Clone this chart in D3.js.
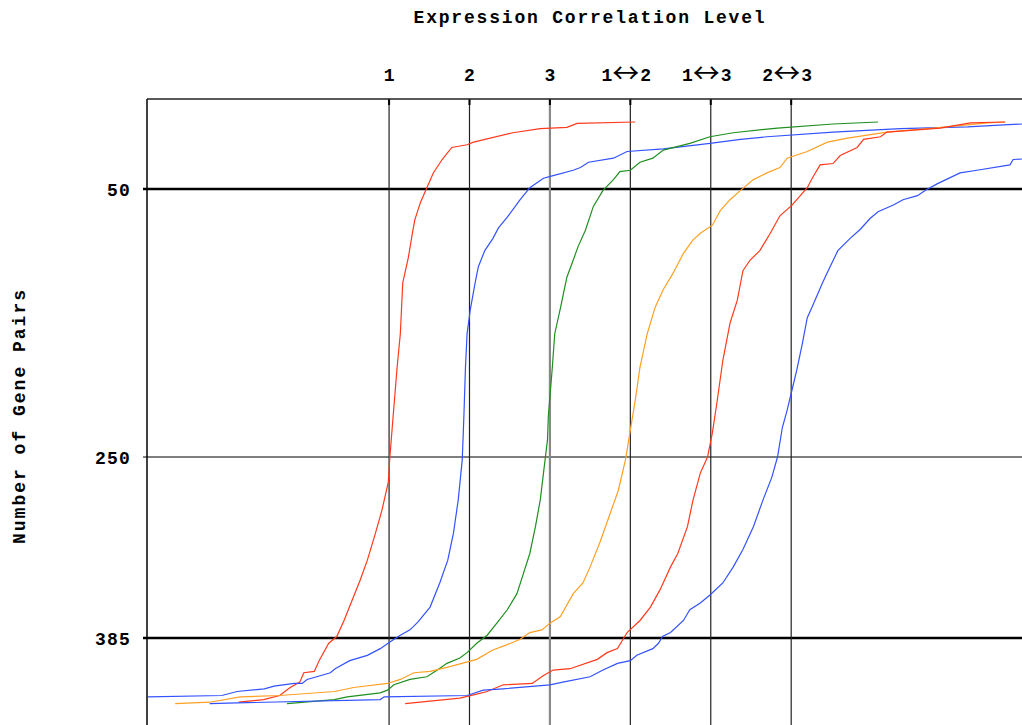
<!DOCTYPE html>
<html>
<head>
<meta charset="utf-8" />
<title>Expression Correlation Level</title>
<script src="https://d3js.org/d3.v7.min.js"></script>
<style type="text/css">
	body { margin: 0; background: #fff; }
	text { font-family: "Liberation Mono", "DejaVu Sans Mono", monospace; font-weight: bold; font-size: 18px; fill: #000; }
	.curve { fill: none; stroke-width: 1.2; }
</style>
</head>
<body>
<script>
	// categories on the top axis and where they sit on the level axis
	const categories = ["1", "2", "3", "1\u21942", "1\u21943", "2\u21943"];
	const levels = [1, 2, 3, 4, 5, 6];
	const yTicks = [50, 250, 385];

	// each series: [correlation level, number of gene pairs]
	const s1 = [[-0.87,433],[-0.56,431],[-0.36,428],[-0.23,422],[-0.11,418],[-0.06,411],[0.07,410],[0.13,402],[0.25,389],[0.35,384],[0.44,372],[0.64,342],[0.73,327],[0.83,307],[0.91,290],[0.99,269],[1.01,250],[1.05,220],[1.10,183],[1.14,158],[1.17,120],[1.24,101],[1.29,83],[1.32,73],[1.39,60],[1.47,49],[1.55,38],[1.66,28],[1.78,19],[1.97,17],[2.05,15],[2.54,8],[2.88,5],[3.21,4],[3.34,1],[4.06,0]];
	const s2 = [[-2.01,429],[-1.08,428],[-0.89,425],[-0.55,423],[-0.43,421],[-0.18,419],[-0.08,419],[-0.02,416],[0.10,414],[0.27,411],[0.33,408],[0.51,402],[0.73,398],[0.89,393],[1.01,388],[1.14,383],[1.26,379],[1.36,373],[1.51,362],[1.63,344],[1.73,327],[1.80,307],[1.86,282],[1.91,252],[1.93,220],[1.95,183],[1.97,158],[2.01,140],[2.07,120],[2.11,108],[2.19,96],[2.29,87],[2.36,79],[2.47,71],[2.63,58],[2.75,49],[2.92,42],[3.04,40],[3.29,36],[3.38,34],[3.48,30],[3.79,27],[3.96,22],[4.41,20],[4.99,16],[5.37,13],[5.70,11],[6.52,7.5],[7.36,5],[8.19,3.7],[8.87,1.5]];
	const s3 = [[-0.27,434],[0.32,431],[0.48,429],[0.89,426],[0.98,424],[1.06,420],[1.26,416],[1.47,414],[1.60,409],[1.72,404],[1.88,400],[1.97,396],[2.09,389],[2.22,383],[2.34,374],[2.47,364],[2.59,352],[2.67,337],[2.75,322],[2.82,302],[2.88,282],[2.92,262],[2.97,237],[2.98,220],[3.03,183],[3.06,158],[3.13,139],[3.21,116],[3.29,103],[3.35,93],[3.44,81],[3.54,63],[3.66,51],[3.79,43],[3.87,37],[4.00,36],[4.12,30],[4.28,27],[4.41,21],[4.74,16],[4.99,11],[5.28,8],[5.83,4.5],[6.52,1.5],[7.08,0]];
	const s12 = [[-1.66,434],[-1.23,433],[-0.85,429],[-0.36,428],[0.32,425],[0.56,422],[0.98,419],[1.14,416],[1.31,411],[1.51,410],[1.72,407],[2.09,401],[2.29,394],[2.47,390],[2.63,386],[2.75,381],[2.90,379],[3.00,374],[3.13,369],[3.29,352],[3.41,344],[3.50,332],[3.62,314],[3.75,292],[3.85,275],[3.94,252],[4.00,230],[4.06,208],[4.12,183],[4.21,158],[4.31,138],[4.41,125],[4.53,113],[4.66,98],[4.78,88],[4.87,83],[5.02,77],[5.12,66],[5.24,58],[5.37,51],[5.53,43],[5.70,38],[5.86,34],[5.95,27],[6.20,22],[6.45,15],[6.70,12],[7.19,7.5],[7.77,4.5],[8.44,0.7],[8.66,0]];
	const s13 = [[1.20,434],[1.88,430],[2.09,427],[2.22,425],[2.42,420],[2.78,419],[2.92,413],[3.04,409],[3.25,408],[3.59,401],[3.71,396],[3.84,393],[3.96,381],[4.12,372],[4.25,362],[4.37,349],[4.50,332],[4.59,322],[4.71,302],[4.78,282],[4.87,262],[4.96,250],[5.02,232],[5.08,208],[5.15,178],[5.24,150],[5.33,133],[5.40,111],[5.49,103],[5.61,96],[5.74,83],[5.86,70],[6.01,62],[6.20,49],[6.27,41],[6.36,32],[6.52,31],[6.61,25],[6.82,19],[6.90,13],[7.11,11],[7.19,7.5],[7.85,4.5],[8.23,0.7],[8.66,0]];
	const s23 = [[-1.23,434],[0.89,431],[0.94,429],[1.97,428],[2.17,424],[2.42,423],[3.00,420],[3.16,418],[3.50,414],[3.66,409],[3.84,404],[4.00,402],[4.08,398],[4.28,393],[4.35,389],[4.40,384],[4.50,381],[4.66,372],[4.74,364],[4.87,359],[4.99,353],[5.15,344],[5.28,332],[5.40,319],[5.53,302],[5.65,282],[5.76,265],[5.83,250],[5.89,228],[5.95,215],[6.01,200],[6.07,185],[6.14,165],[6.20,146],[6.26,138],[6.39,120],[6.46,111],[6.58,96],[6.73,87],[6.86,80],[6.98,72],[7.08,67],[7.27,62],[7.39,58],[7.57,55],[7.67,51],[7.82,46],[8.10,38],[8.31,36],[8.72,32],[8.76,28],[8.87,27.6]];

	const series = [s1, s2, s3, s12, s13, s23];
	const colors = ["#ff3a1c", "#3352ff", "#1f8f1f", "#ffa024", "#ff3a1c", "#3352ff"];

	const width = 1022;
	const height = 725;
	const plotLeft = 147, plotTop = 99;

	const svg = d3.select("body")
		.append("svg")
		.attr("width", width)
		.attr("height", height);

	const x = d3.scaleLinear()
		.domain([-2.01, 8.87])
		.range([plotLeft, width]);

	const y = d3.scaleLinear()
		.domain([0, 450])
		.range([122, height]);

	// title
	svg.append("text")
		.attr("x", 590)
		.attr("y", 23)
		.attr("text-anchor", "middle")
		.style("letter-spacing", "1.8px")
		.text("Expression Correlation Level");

	// y axis title
	svg.append("text")
		.attr("transform", "translate(25,416) rotate(-90)")
		.attr("text-anchor", "middle")
		.style("letter-spacing", "2px")
		.text("Number of Gene Pairs");

	// horizontal grid lines
	svg.selectAll("line.hgrid")
		.data(yTicks)
		.enter()
		.append("line")
		.attr("class", "hgrid")
		.attr("x1", plotLeft - 4)
		.attr("x2", width)
		.attr("y1", d => y(d))
		.attr("y2", d => y(d))
		.attr("stroke", "#000")
		.attr("stroke-width", d => d === 250 ? 1.2 : 2.5);

	svg.selectAll("text.ylab")
		.data(yTicks)
		.enter()
		.append("text")
		.attr("class", "ylab")
		.attr("x", 131)
		.attr("y", d => y(d) + 7)
		.attr("text-anchor", "end")
		.style("letter-spacing", "1.2px")
		.text(d => d);

	// vertical category lines
	svg.selectAll("line.vgrid")
		.data(levels)
		.enter()
		.append("line")
		.attr("class", "vgrid")
		.attr("x1", d => x(d))
		.attr("x2", d => x(d))
		.attr("y1", plotTop)
		.attr("y2", height)
		.attr("stroke", d => d === 3 ? "#888" : "#222")
		.attr("stroke-width", d => d === 3 ? 2.2 : 1.2);

	svg.selectAll("line.vtick")
		.data(levels)
		.enter()
		.append("line")
		.attr("class", "vtick")
		.attr("x1", d => x(d))
		.attr("x2", d => x(d))
		.attr("y1", plotTop)
		.attr("y2", plotTop + 6)
		.attr("stroke", "#000")
		.attr("stroke-width", 2);

	// top category labels
	const labels = svg.selectAll("text.xlab")
		.data(categories)
		.enter()
		.append("text")
		.attr("class", "xlab")
		.attr("x", (d, i) => x(levels[i]) - (d.length > 1 ? 4 : 0))
		.attr("y", 81)
		.attr("text-anchor", "middle");
	labels.each(function(d) {
		const t = d3.select(this);
		if (d.length === 1) {
			t.text(d);
		} else {
			t.append("tspan").text(d[0]);
			t.append("tspan")
				.attr("dx", 0)
				.attr("dy", 2)
				.style("font-family", "Noto Sans CJK JP")
				.style("font-weight", "normal")
				.style("font-size", "27px")
				.text(d[1]);
			t.append("tspan").attr("dx", 1).attr("dy", -2).text(d[2]);
		}
	});

	// frame: top border and left axis
	svg.append("line")
		.attr("x1", plotLeft).attr("x2", width)
		.attr("y1", plotTop).attr("y2", plotTop)
		.attr("stroke", "#222").attr("stroke-width", 1.5);
	svg.append("line")
		.attr("x1", plotLeft).attr("x2", plotLeft)
		.attr("y1", plotTop).attr("y2", height)
		.attr("stroke", "#000").attr("stroke-width", 1.5);

	svg.append("clipPath")
		.attr("id", "plot")
		.append("rect")
		.attr("x", plotLeft + 1)
		.attr("y", plotTop)
		.attr("width", width - plotLeft)
		.attr("height", height - plotTop);

	const line = d3.line()
		.x(d => x(d[0]))
		.y(d => y(d[1]));

	svg.append("g")
		.attr("clip-path", "url(#plot)")
		.selectAll("path")
		.data(series)
		.enter()
		.append("path")
		.attr("class", "curve")
		.attr("d", line)
		.attr("stroke", (d, i) => colors[i]);
</script>
</body>
</html>
